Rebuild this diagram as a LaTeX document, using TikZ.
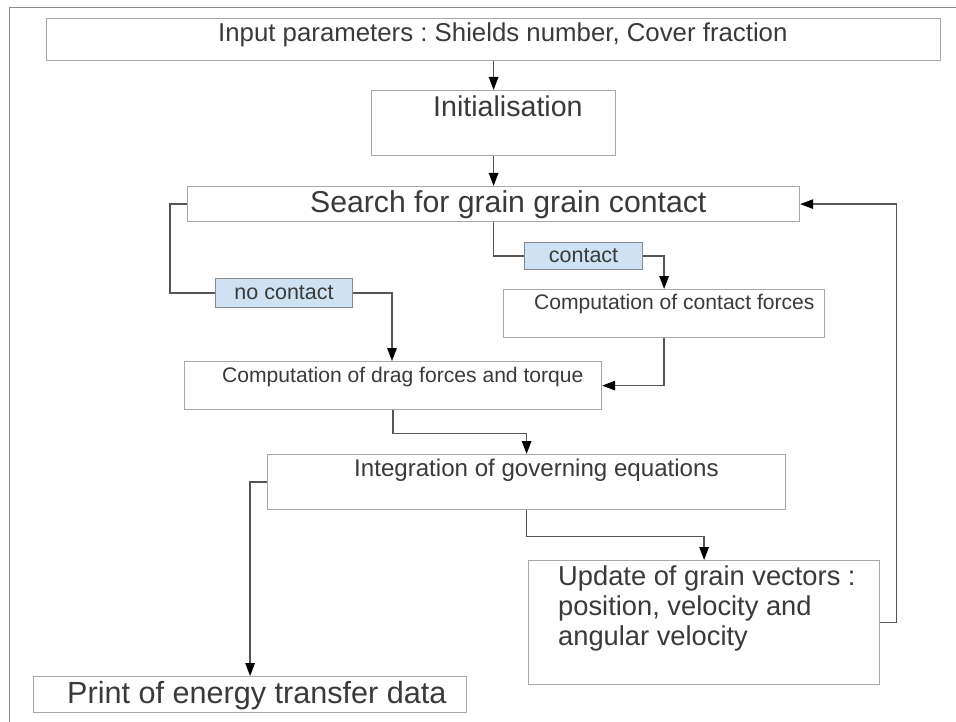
\documentclass[tikz,border=0pt]{standalone}
\usepackage{fontspec}
\setmainfont{Liberation Sans}
\usetikzlibrary{arrows.meta}
\definecolor{txtc}{HTML}{3A3A3A}
\definecolor{boxc}{HTML}{A8A8A8}
\definecolor{linec}{HTML}{555555}
\definecolor{lblfill}{HTML}{CFE2F3}
\definecolor{lbldraw}{HTML}{8A8A8A}
\definecolor{framec}{HTML}{8C8C8C}
\newcommand\myfs[1]{\fontsize{#1}{#1}\selectfont}
\frenchspacing
\begin{document}
\begin{tikzpicture}[x=1pt,y=-1pt,
  box/.style={draw=boxc, line width=1.2pt, fill=white, inner sep=0pt, anchor=north west},
  lbl/.style={draw=lbldraw, line width=1.1pt, fill=lblfill, inner sep=0pt, anchor=north west, text=txtc, font=\myfs{21.5}},
  txt/.style={text=txtc, inner sep=0pt, anchor=base west},
  conn/.style={draw=linec, line width=1.3pt},
  arr/.style={conn, -{Triangle[length=13pt,width=9.5pt,fill=black,color=black]}},
]
\useasboundingbox (0,0) rectangle (956,722);
% outer frame (top and left edges)
\draw[framec, line width=1pt] (9,722) -- (9,8) -- (956,8);

% boxes
\node[box, minimum width=894pt, minimum height=42pt] (b1) at (46,18) {};
\node[box, minimum width=244pt, minimum height=65pt] (b2) at (371,90) {};
\node[box, minimum width=612pt, minimum height=35pt] (b3) at (187,186) {};
\node[box, minimum width=321pt, minimum height=48pt] (bcf) at (503,289) {};
\node[box, minimum width=417pt, minimum height=48pt] (bdrag) at (184,361) {};
\node[box, minimum width=518pt, minimum height=55pt] (bint) at (267,454) {};
\node[box, minimum width=351pt, minimum height=124pt] (bupd) at (528,560) {};
\node[box, minimum width=433pt, minimum height=36pt] (bprint) at (33,676) {};

% labels
\node[lbl, minimum width=137pt, minimum height=29pt] (nc) at (215,278) {no contact};
\node[lbl, minimum width=118pt, minimum height=27pt] (ct) at (524,242) {contact};

% texts
\node[txt, font=\myfs{25.8}] (t1) at (218,42) {Input parameters : Shields number, Cover fraction};
\node[txt, font=\myfs{28.6}] (t2) at (433,117) {Initialisation};
\node[txt, font=\myfs{30.2}] (t3) at (310,213) {Search for grain grain contact};
\node[txt, font=\myfs{21.1}] (tcf) at (534,309) {Computation of contact forces};
\node[txt, font=\myfs{21.1}] (tdrag) at (222,382) {Computation of drag forces and torque};
\node[txt, font=\myfs{24.1}] (tint) at (354,476) {Integration of governing equations};
\node[txt, font=\myfs{27.3}] (tu1) at (558,585) {Update of grain vectors :};
\node[txt, font=\myfs{27.3}] (tu2) at (558,615) {position, velocity and};
\node[txt, font=\myfs{27.3}] (tu3) at (558,645) {angular velocity};
\node[txt, font=\myfs{30.6}] (tpr) at (67,703) {Print of energy transfer data};

% connectors
\draw[arr] (b1.south) -- (b2.north);
\draw[arr] (b2.south) -- (b3.north);
\draw[conn] (b3.west) -- ++(-17,0) |- (nc.west);
\draw[arr] (nc.east) -| ([xshift=208pt]bdrag.north west);
\draw[conn] (b3.south) |- (ct.west);
\draw[arr] (ct.east) -| (bcf.north);
\draw[arr] (bcf.south) |- (bdrag.east);
\draw[arr] (bdrag.south) -- ++(0,23) -| (bint.north);
\draw[arr] (bint.west) -| (bprint.north);
\draw[arr] (bint.south) -- ++(0,26) -| (bupd.north);
\draw[arr] (bupd.east) -- ++(16,0) |- (b3.east);
\end{tikzpicture}
\end{document}
